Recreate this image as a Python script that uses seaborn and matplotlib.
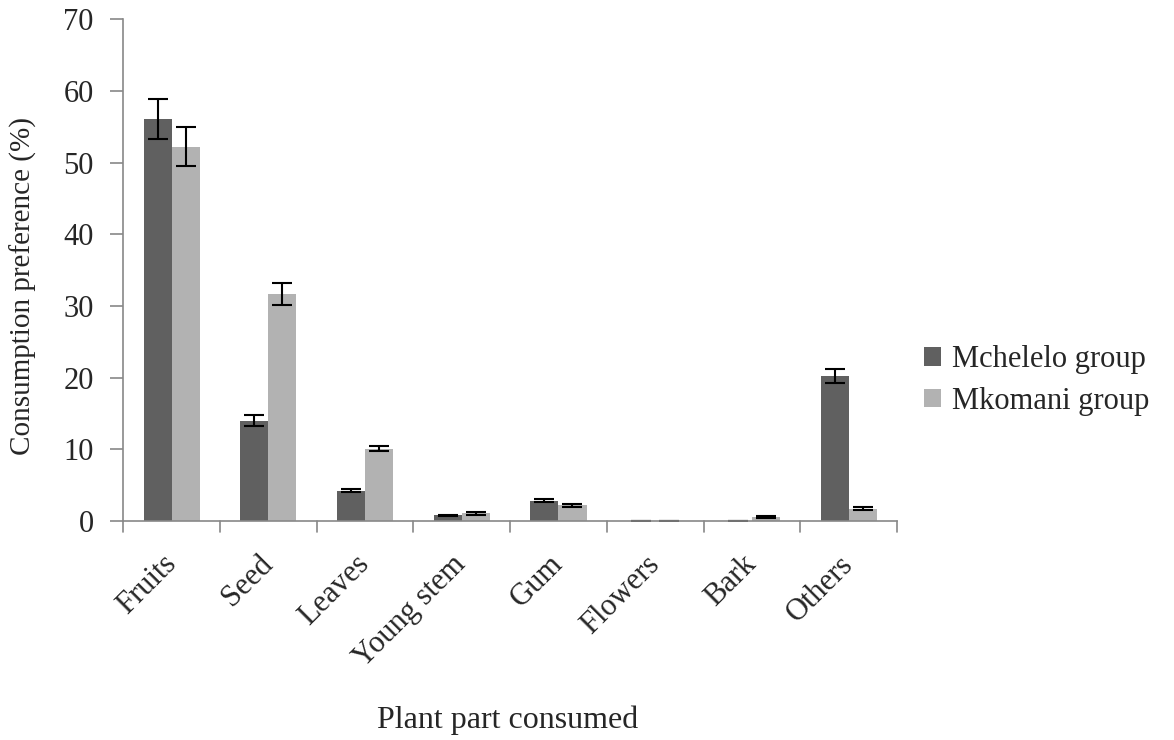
import matplotlib
matplotlib.use("Agg")
import matplotlib.pyplot as plt
import seaborn as sns
import pandas as pd
import numpy as np

categories = ["Fruits", "Seed", "Leaves", "Young stem", "Gum", "Flowers", "Bark", "Others"]
mchelelo = [56.1, 14.0, 4.2, 0.8, 2.8, 0.0, 0.0, 20.2]
mkomani = [52.2, 31.7, 10.1, 1.1, 2.2, 0.0, 0.55, 1.7]
mchelelo_err = [2.8, 0.8, 0.2, 0.1, 0.2, 0.0, 0.0, 1.0]
mkomani_err = [2.7, 1.5, 0.4, 0.2, 0.2, 0.0, 0.1, 0.2]
groups = ["Mchelelo group", "Mkomani group"]
colors = ["#606060", "#b2b2b2"]

df = pd.DataFrame({
    "part": categories * 2,
    "value": mchelelo + mkomani,
    "err": mchelelo_err + mkomani_err,
    "group": [groups[0]] * len(categories) + [groups[1]] * len(categories),
})

sns.set_style("white")
plt.rcParams["font.family"] = ["Liberation Serif", "DejaVu Serif"]
FS = 22

fig = plt.figure(figsize=(11.74, 7.4), dpi=100)
ax = fig.add_axes([0.105, 0.296, 0.659, 0.678])

sns.barplot(data=df, x="part", y="value", hue="group", palette=colors,
            width=0.58, errorbar=None, ax=ax, saturation=1, linewidth=0)

# error bars
for cont, errs in zip(ax.containers, [mchelelo_err, mkomani_err]):
    for patch, e in zip(cont.patches, errs):
        xc = patch.get_x() + patch.get_width() / 2
        h = patch.get_height()
        ax.errorbar(xc, h, yerr=e, fmt="none", ecolor="black", elinewidth=1.5,
                    capsize=7, capthick=1.5)

ax.set_ylim(0, 70)
ax.set_yticks(range(0, 71, 10))
ax.set_xlim(-0.5, len(categories) - 0.5)
ax.set_xticks(range(len(categories)))
ax.set_xticklabels(categories, rotation=45, ha="right", va="center",
                   rotation_mode="anchor", fontsize=FS)
ax.tick_params(axis="x", length=0, pad=28)
ax.tick_params(axis="y", labelsize=FS, length=9.4, width=1.2, color="#888888",
               direction="out", left=True, pad=12)
# boundary ticks on x-axis
for b in np.arange(-0.5, len(categories), 1.0):
    ax.plot([b, b], [0, -0.022], transform=ax.get_xaxis_transform(), color="#888888",
            lw=1.2, clip_on=False)

for s in ["top", "right"]:
    ax.spines[s].set_visible(False)
for s in ["left", "bottom"]:
    ax.spines[s].set_color("#888888")
    ax.spines[s].set_linewidth(1.2)

ax.set_ylabel("Consumption preference (%)", fontsize=21)
ax.yaxis.set_label_coords(-0.112, 0.468)
ax.set_xlabel("")
fig.text(0.432, 0.027, "Plant part consumed", fontsize=23, ha="center", va="center")

handles, labels = ax.get_legend_handles_labels()
ax.legend(handles, labels, loc="center left", bbox_to_anchor=(1.035, 0.28), frameon=False,
          fontsize=FS, handlelength=0.55, handleheight=0.55, handletextpad=0.35,
          labelspacing=0.4, borderaxespad=0, borderpad=0)

fig.savefig("out.png", dpi=100)
